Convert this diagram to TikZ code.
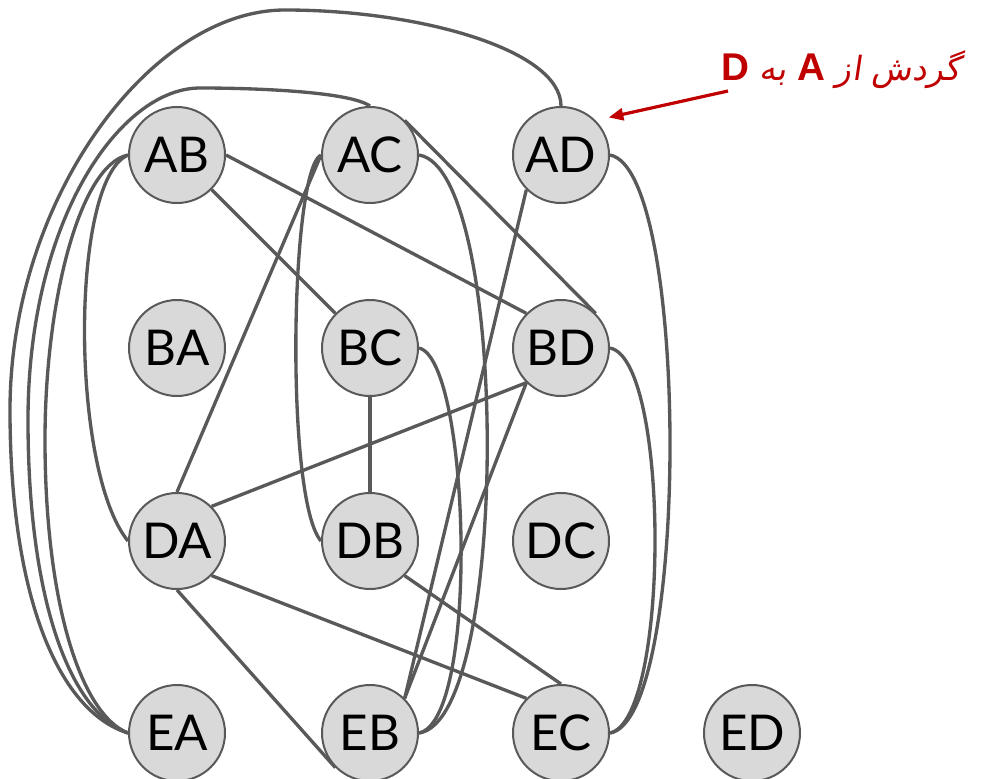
\documentclass[tikz,border=0pt]{standalone}
\usepackage{fontspec}
\setmainfont{Lato}
\newfontfamily\persianfont[Script=Arabic,FakeSlant=0.15]{DejaVu Sans}
\newfontfamily\arialfont{Liberation Sans}
\TeXXeTstate=1
\usetikzlibrary{arrows.meta}
\definecolor{edgegray}{HTML}{595959}
\definecolor{nodefill}{HTML}{D9D9D9}
\definecolor{notered}{HTML}{C00000}
\newcommand{\latinbold}[1]{{\arialfont\bfseries\fontsize{29}{32}\selectfont #1}}
\tikzset{
  vertex/.style={circle, draw=edgegray, fill=nodefill, line width=1.5pt,
    minimum size=72pt, inner sep=0pt, font=\fontsize{37}{40}\selectfont},
  link/.style={draw=edgegray, line width=2.5pt},
  pointer/.style={draw=notered, line width=2.4pt, shorten >=10pt,
    -{Triangle[length=11pt,width=9pt]}}
}
\begin{document}
\begin{tikzpicture}[x=0.75pt, y=-0.75pt]
\path[use as bounding box] (0,0) rectangle (984,778);

% grid of states
\node[vertex] (AB) at (177,155) {AB};
\node[vertex] (AC) at (370,155) {AC};
\node[vertex] (AD) at (561,155) {AD};
\node[vertex] (BA) at (177,348) {BA};
\node[vertex] (BC) at (370,348) {BC};
\node[vertex] (BD) at (561,348) {BD};
\node[vertex] (DA) at (177,541) {DA};
\node[vertex] (DB) at (370,541) {DB};
\node[vertex] (DC) at (561,541) {DC};
\node[vertex] (EA) at (177,733) {EA};
\node[vertex] (EB) at (370,733) {EB};
\node[vertex] (EC) at (561,733) {EC};
\node[vertex] (ED) at (752,733) {ED};

% straight connectors
\draw[link] (AB.south east) -- (BC.north west);
\draw[link] (AB.east) -- (BD.north west);
\draw[link] (AC.west) -- (DA.north);
\draw[link] (AC.north east) -- (BD.north east);
\draw[link] (AD.south west) -- (EB.north east);
\draw[link] (BD.south west) -- (DA.north east);
\draw[link] (BD.south west) -- (EB.north east);
\draw[link] (BC.south) -- (DB.north);
\draw[link] (DA.south east) -- (EC.north west);
\draw[link] (DA.south) -- (EB.south west);
\draw[link] (DB.south east) -- (EC.north);

% curved connectors on the left
\draw[link] (AD.north) .. controls (561,50) and (420,10) .. (285,10)
  .. controls (150,10) and (10,200) .. (10,410)
  .. controls (10,600) and (60,712) .. (EA.west);
\draw[link] (AC.north) .. controls (350,92) and (260,88) .. (200,88)
  .. controls (120,88) and (28,220) .. (28,420)
  .. controls (28,600) and (70,712) .. (EA.west);
\draw[link] (AB.west) .. controls (80,165) and (45,300) .. (45,440)
  .. controls (45,600) and (80,714) .. (EA.west);
\draw[link] (AB.west) .. controls (70,180) and (70,470) .. (DA.west);
\draw[link] (AC.west) .. controls (290,170) and (285,500) .. (DB.west);

% curved connectors on the right
\draw[link] (AC.east) .. controls (510,170) and (510,720) .. (EB.east);
\draw[link] (BC.east) .. controls (470,360) and (480,720) .. (EB.east);
\draw[link] (AD.east) .. controls (690,170) and (690,720) .. (EC.east);
\draw[link] (BD.east) .. controls (670,360) and (670,720) .. (EC.east);

% annotation
\node[anchor=base east, text=notered, inner sep=0pt, font=\fontsize{25}{30}\selectfont]
  (note) at (962,80)
  {\persianfont\beginR گردش از \latinbold{A} به \latinbold{D}\endR};
\coordinate (notetail) at (728,91);
\draw[pointer] (notetail) -- (AD.north east);
\end{tikzpicture}
\end{document}
